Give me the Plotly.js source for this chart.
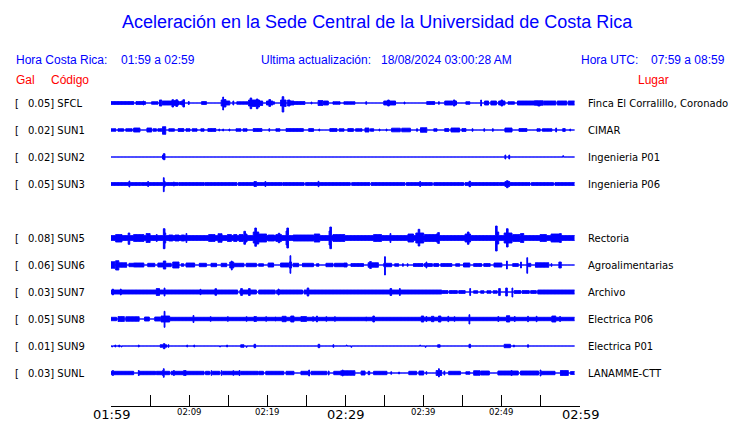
<!DOCTYPE html>
<html><head><meta charset="utf-8">
<script src="https://cdn.plot.ly/plotly-3.0.1.min.js"></script>
<style>html,body{margin:0;padding:0;background:#fff}#chart{width:740px;height:423px}</style>
</head><body><div id="chart"></div>
<script>
// ---- data (times in minutes after 01:59, amplitudes as drawn half-heights) ----
const stations = ['SFCL','SUN1','SUN2','SUN3','SUN5','SUN6','SUN7','SUN8','SUN9','SUNL'];
const galMax   = ['0.05','0.02','0.02','0.05','0.08','0.06','0.03','0.05','0.01','0.03'];
const places   = ['Finca El Corralillo, Coronado','CIMAR','Ingenieria P01','Ingenieria P06','Rectoria',
                  'Agroalimentarias','Archivo','Electrica P06','Electrica P01','LANAMME-CTT'];
const tickTimes = [0,10,20,30,40,50,60];
const tickText  = ['01:59','02:09','02:19','02:29','02:39','02:49','02:59'];
const tickBig   = [true,false,false,true,false,false,true];
const minorTicks = [0,5,10,15,20,25,30,35,40,45,50,55,60];
const traceEnd = 59.3;

// each entry: [start min, end min, amplitude up, amplitude down]
const segSFCL = [[0,2.8,1.5,1.5],[3.2,4.3,1.5,1.5],[4.1,4.1,2,2],[5.2,5.9,1.3,1.3],
 [6.2,6.4,3,3],[6.6,7.4,2,2],[7.5,7.7,2,2],[7.8,7.9,3.3,4],[8.0,8.2,2.5,2.5],[8.3,8.4,3.3,3.5],[8.5,8.6,2,2],
 [8.8,8.9,1.5,1.5],[9.0,9.1,2,2],[9.2,9.3,3.3,4],[9.9,9.9,1.5,1.5],
 [11.6,12.1,1.5,1.5],[14.1,14.2,3,3],[14.3,14.3,6,7],[14.4,14.6,3.5,4],[14.7,15.1,2,2],[15.6,15.6,2,2],[16.1,17.5,1.3,1.3],
 [17.6,17.7,3,3],[17.8,17.9,5,5.7],[18.0,18.2,3,3.5],[18.3,18.5,3,3.5],[18.6,18.7,4,5.7],[18.8,18.9,3,4],[19.0,19.3,2,2.5],
 [19.9,20.1,2,2],[20.2,20.3,3.5,3.5],[20.4,20.6,2,2],[20.8,20.8,1.3,1.3],
 [21.7,21.8,3,3],[21.9,22.0,6.3,9],[22.1,22.3,3,3.5],[22.6,22.8,3,3],[22.9,23.3,2,2],[23.4,24.7,1.5,1.5],[25.6,25.6,1,1],
 [26.5,27.0,2.5,2.5],[27.2,27.7,2,2],[28.4,29.2,1.3,1.3],[29.8,31.1,1.3,1.3],[32.6,32.6,1.3,1.3],
 [34.9,35.3,2,2],[35.4,35.5,3,3],[35.6,36.3,2,2],[37.5,37.5,1,1],[40.4,41.3,1.5,1.5],[41.9,41.9,1.3,1.3],
 [42.7,43.6,2,2],[43.8,43.9,3,3],[44.0,44.1,2,2],[45.4,45.8,1.3,1.3],[47.3,47.3,3,3],[47.8,48.2,2,2],[48.6,49.2,2,2],
 [49.6,49.8,2,2],[49.9,50.0,3,3],[50.1,50.3,2,2],[50.8,51.5,1.3,1.3],[52.0,54.1,2,2],[54.2,54.5,2.3,2.3],[54.6,54.8,2.3,3],
 [54.9,55.2,2.3,2.3],[55.4,56.8,2,2],[57.1,58.2,2,2],[58.5,59.3,2,2]];
const segSUN1 = [[0,0.5,1.3,1.3],[0.9,1.5,1.3,1.3],[1.9,2.6,1.3,1.3],[2.9,3.6,2,2],[4.6,5.1,2,2],
 [5.4,5.7,1.3,1.3],[6.0,6.4,1.3,1.3],[6.6,6.9,3.3,4.3],[7.4,8.0,1.3,1.3],[8.6,9.2,1.5,1.5],
 [9.6,10.0,1.3,1.3],[10.4,10.9,1.3,1.3],[11.5,11.8,1.3,1.3],[12.4,13.3,1.5,1.5],[13.8,13.8,1,1],
 [14.3,14.3,1,1],[15.1,15.1,1,1],[16.0,16.5,1.3,1.3],[16.9,17.3,1.3,1.3],[18.2,19.2,1.5,1.5],
 [20.2,20.2,1.3,1.3],[21.1,21.5,1.3,1.3],[22.4,24.5,1.5,1.5],[25.3,25.8,1.5,1.5],[26.6,26.6,1,1],
 [28.0,28.8,1.5,1.5],[29.2,29.7,1.3,1.3],[30.3,30.9,1.5,1.5],[31.3,32.0,1.3,1.3],[32.5,32.9,2,2],
 [33.2,33.5,1.3,1.3],[34.3,34.3,1,1],[35.2,35.2,1,1],[35.9,36.9,1.8,1.8],[37.2,38.2,1.8,1.8],
 [39.1,39.1,1.3,1.3],[39.6,40.3,2.3,2.3],[41.3,41.6,1.3,1.3],[42.7,43.1,1.5,1.5],[43.5,44.5,2,2],
 [44.9,45.3,1.5,1.5],[46.2,46.2,1.3,1.3],[47.7,47.7,1.3,1.3],[48.8,48.8,1.3,1.3],[50.4,51.2,2,2],
 [52.2,53.1,1.5,1.5],[54.5,54.8,1.3,1.3],[55.2,56.3,1.3,1.3],[56.9,56.9,2,2],[57.8,58.0,1.5,1.5],[58.7,58.7,1,1]];
const segSUN2 = [[6.6,6.6,2,2],[6.7,6.8,3.3,2.7],[50.4,50.4,2,2],[50.9,50.9,2,2],[57.8,57.8,1.3,0]];
const segSUN3 = [[0,3.7,1.5,1.5],[3.9,8.5,1.5,1.5],[8.7,11.8,1.5,1.5],[12.0,16.0,1.5,1.5],[16.3,21.8,1.5,1.5],
 [22.0,24.6,1.5,1.5],[24.9,30.5,1.5,1.5],[30.8,33.0,1.5,1.5],[33.3,37.5,1.5,1.5],[37.8,41.0,1.5,1.5],
 [41.3,45.0,1.5,1.5],[45.3,49.5,1.5,1.5],[49.7,53.5,1.5,1.5],[53.8,56.5,1.5,1.5],[56.8,59.3,1.5,1.5],
 [2.3,2.3,3,3],[4.7,4.7,2.5,2.5],[6.7,6.7,6.3,7.7],[6.8,6.8,3,3],[8.0,8.0,2,2],[18.3,18.5,2.5,2.5],[19.7,19.7,2.5,2.5],
 [26.5,26.5,2.7,2.7],[39.5,39.5,2.5,2.5],[45.8,45.9,2.7,2.7],[50.4,50.5,2.5,2.5],[50.6,50.7,3.3,3.7],[50.8,50.9,2.5,2.5]];
const segSUN5 = [[0,59.3,2.5,2.5],[0.6,1.3,3.5,4],[2.2,2.3,5,6.3],[2.9,4.1,3.5,3.5],[4.5,4.9,4.5,4.5],
 [5.8,5.8,3.5,3.5],[6.7,6.8,9.3,10.7],[6.9,6.9,5,5],[7.4,7.8,3,3],[8.2,8.6,3,3],[9.0,9.3,3,3],[9.6,9.6,4.5,4.5],
 [12.5,13.2,3.5,3.5],[13.7,14.1,4.3,4.3],[14.9,15.3,3.5,3.5],[15.7,16.0,3.5,3.5],[16.4,16.8,3.5,3.5],
 [17.0,17.1,6.7,6.3],[17.2,17.3,4,4],[18.2,18.3,6,5],[18.4,18.5,10,8.3],[18.6,18.8,6,6],[18.9,19.8,4,4],
 [20.1,20.8,3,3],[21.1,21.3,3.5,3.5],[21.4,21.5,4.7,4.7],[21.6,21.7,3.5,3.5],
 [22.4,22.4,7,7],[22.5,22.6,10,10],[23.3,25.8,3,3],[26.0,26.6,4,4],[27.9,27.9,7,7],[28.0,28.1,11,10.7],
 [28.4,29.8,3.5,3.5],[33.6,34.5,3.5,3.5],[35.7,35.7,4.5,4.5],[38.0,38.6,4,4],[39.0,39.2,5,5],[39.3,39.4,8.7,8],
 [39.5,39.9,5,5],[40.1,41.5,3.5,3.5],[41.6,41.7,4,4],[41.8,41.9,5.5,5.5],[45.3,45.5,4,4],[45.6,45.7,6,6.3],[45.8,45.9,4,4],
 [49.2,49.3,12,13],[49.4,49.5,6,6],[50.3,50.5,5,5],[50.6,50.7,9.3,9],[50.8,51.2,5,5],[51.4,52.2,3.5,3.5],
 [52.4,52.7,4.5,4.5],[54.9,55.6,3.5,3.5],[56.3,57.3,4,4],[57.4,57.5,4.5,4.5]];
const segSUN6 = [[0,0.4,3.3,3.3],[0.6,0.9,4.3,5],[1.0,1.9,2.3,2.3],[2.3,2.8,1.7,1.7],[2.9,4.1,2,2],[4.7,5.5,1.7,1.7],
 [6.0,6.6,2,2],[6.7,6.9,4,4],[7.0,7.6,1.7,1.7],[7.9,8.6,3,3],[9.0,9.2,1.3,1.3],[9.6,10.6,2,2],[11.3,12.1,1.7,1.7],
 [12.8,13.4,1.7,1.7],[14.1,14.7,1.7,1.7],[15.2,15.3,3,3],[15.4,15.4,4,5],[15.5,15.6,3,3],[15.7,16.9,1.7,1.7],
 [17.3,18.5,1.7,1.7],[18.9,19.4,1.3,1.3],[20.1,20.7,2,2],[21.7,22.6,2,2],[22.8,22.8,3,3],[22.9,22.9,9.3,8.3],
 [23.0,23.0,3,3],[23.3,23.9,1.7,1.7],[24.5,25.8,1.7,1.7],[26.3,26.5,1.3,1.3],
 [27.5,28.3,1.7,1.7],[28.6,29.8,1.7,1.7],[29.8,30.1,2,2],[30.7,32.2,1.5,1.5],[32.9,34.1,2.3,2.3],[33.1,33.2,3.5,3.5],
 [34.9,35.8,1.7,1.7],[35.0,35.0,8.3,10],[36.3,36.7,1.3,1.3],[37.3,37.3,1.3,1.3],[37.9,37.9,1.3,1.3],
 [38.7,39.8,1.5,1.5],[40.1,41.0,1.5,1.5],[40.3,40.3,3,3],[41.3,41.8,1.5,1.5],[42.2,43.5,1.5,1.5],[44.1,44.5,1.3,1.3],
 [45.1,45.8,2,2],[46.4,47.3,1.5,1.5],[47.7,48.4,1.5,1.5],[49.0,49.9,2,2],[50.6,50.6,4,4],[51.4,52.0,1.5,1.5],
 [52.4,52.4,3,3],[53.2,53.2,7.3,8.3],[53.4,53.6,1.7,1.7],[54.3,55.9,2.3,2.3],[56.3,56.3,1.3,1.3],[57.3,57.5,3,3]];
const segSUN7 = [[0,16.1,2,2],[16.5,18.5,2,2],[18.9,20.9,2,2],[21.2,24.4,2,2],[24.7,42.2,2,2],
 [42.2,43.0,1.5,1.5],[43.3,44.2,1.5,1.5],[44.5,45.2,1.5,1.5],[46.4,46.8,1.3,1.3],[47.3,47.6,1.3,1.3],
 [48.1,48.5,1.3,1.3],[48.9,49.3,1.3,1.3],[51.6,52.3,1.5,1.5],[52.6,53.4,1.5,1.5],[53.7,54.3,1.5,1.5],[54.6,59.3,2,2],
 [0.2,0.2,3,3],[1.2,1.2,3,3],[5.8,6.1,3.5,3.5],[6.8,6.8,4,4],[11.4,11.4,2.7,2.7],[13.3,13.4,3.3,3.3],
 [16.6,16.7,3.5,3.5],[17.6,17.7,3.5,3.5],[21.4,21.4,3,3],[25.1,25.2,4,4],[35.7,35.8,3.5,3.5],[36.9,36.9,3.5,3.5],
 [45.9,45.9,3.5,3.5],[49.6,49.7,3.5,3.5],[50.5,50.6,4,4],[51.3,51.3,4,5]];
const segSUN8 = [[0,0.6,1.7,1.7],[0.9,1.6,2.5,2.5],[1.9,3.5,2.3,2.3],[4.3,4.8,2,2],[5.6,6.2,2,2],[6.4,6.7,3,3],
 [6.9,7.4,3,3],[7.4,59.3,1.7,1.7],[6.8,6.8,7.7,8.3],[10.5,10.5,3.5,3.5],[12.7,12.7,2.3,2.3],[14.9,14.9,2.3,2.3],[17.3,17.3,2.3,2.3],
 [18.3,18.5,2.5,2.5],[19.8,19.8,2.3,2.3],[21.0,21.0,2,2],[21.9,22.3,2.7,2.7],[23.0,23.3,3,3],[24.3,24.9,2.5,2.5],
 [25.8,25.8,2.3,2.3],[26.3,26.3,3,3],[27.5,27.5,2.3,2.3],[28.6,28.6,2.3,2.3],[32.6,32.6,2,2],[33.5,33.6,3,3],
 [39.7,39.9,3,3],[40.3,40.3,2.5,2.5],[41.0,41.2,2.7,2.7],[41.9,42.1,3,3],[43.1,43.1,2.7,2.7],[43.9,43.9,2.3,2.3],
 [45.8,45.8,4.3,5],[49.5,49.5,2.5,2.5],[50.6,50.9,3.3,3],[51.6,51.6,2.5,2.5],[53.3,53.3,2.7,2.7],[54.4,54.4,2.7,2.7],
 [56.4,56.8,3,3],[57.4,57.4,2.5,2.5]];
const segSUN9 = [[0.1,0.1,0,1],[0.5,0.5,1,1],[1.0,1.0,1,1],[1.3,1.3,0,1],[3.5,3.5,1,1],[6.3,7.0,1.3,1.3],
 [6.7,6.8,2.3,2.7],[7.3,7.3,1.3,1.3],[9.7,9.7,1,1],[10.6,10.6,1,1],[13.9,13.9,0,1],[14.8,14.8,1,1],
 [16.6,16.9,1.3,1.3],[17.3,17.3,0,1.3],[18.3,18.4,1.7,1.7],[26.5,26.6,1.7,1.7],[28.4,28.4,1.3,1.3],
 [30.1,30.1,1,0],[30.7,30.7,0,1.3],[39.5,39.5,1,0],[40.2,40.2,0,1.3],[41.8,42.0,1.3,1.3],[45.8,45.9,1.7,1.7],
 [50.3,51.0,1.7,1.7],[51.5,51.5,1,1],[53.3,53.3,1.3,1.3]];
const segSUNL = [[0,2.8,1.7,1.7],[3.5,5.6,1.7,1.7],[5.8,7.4,1.7,1.7],[7.7,9.2,1.7,1.7],[9.6,11.8,1.7,1.7],
 [12.1,12.5,1.7,1.7],[13.0,13.8,1.7,1.7],[14.3,16.4,1.7,1.7],[16.6,18.7,1.7,1.7],[18.9,19.4,1.7,1.7],
 [19.8,22.0,1.7,1.7],[22.4,23.3,1.7,1.7],[24.3,25.2,1.7,1.7],[25.6,27.5,1.7,1.7],[28.5,29.4,1.7,1.7],
 [29.4,31.1,2.3,2.3],[32.0,32.4,2,2],[32.9,33.0,1.7,1.7],[33.6,35.2,1.7,1.7],[35.8,35.8,1.3,1.3],[36.8,36.8,1,1],
 [38.1,39.0,1.7,1.7],[39.4,39.9,2,2],[40.3,40.3,1.3,1.3],[41.6,41.8,2.5,2.5],[41.9,41.9,4.3,4],[42.0,42.2,2.5,2.5],
 [42.6,42.6,2,2],[43.2,44.6,1.7,1.7],
 [45.4,45.8,1.3,1.3],[46.4,47.1,2.3,2.3],[47.3,48.3,2,2],[49.5,52.0,2,2],[51.2,51.2,2.5,2.5],[52.4,54.6,2,2],
 [54.9,54.9,3,3],[55.0,56.7,1.7,1.7],[57.5,58.4,2.5,2.5],[58.8,59.3,1.5,1.5],
 [0.2,0.2,2.5,2.5],[3.5,3.5,2.5,2.5],[6.6,6.6,2.5,2.5],[6.7,6.7,4.3,4.3],[8.0,8.0,2.5,2.5],[9.3,9.5,2.5,2.5],[12.8,12.8,2.3,2.3],
 [14.1,14.1,2.3,2.3],[15.6,15.6,2.3,2.3],[16.4,16.4,2.5,2.5],[25.3,25.3,3,3],[27.8,27.8,2,2],[29.6,29.6,3,3]];
const segments = [segSFCL,segSUN1,segSUN2,segSUN3,segSUN5,segSUN6,segSUN7,segSUN8,segSUN9,segSUNL];

// ---- layout geometry ----
const W = 740, H = 423;
const L = 111, R = 580, TOP = 88, BOT = 406;
const BLUE = '#0000ff', RED = '#ff0000';
function px(x){ return (x - L) / (R - L); }
function py(y){ return (BOT - y) / (BOT - TOP); }
function slotBase(i){ const s = i < 4 ? i : i + 1; return -(103 + 27 * s); }

const data = [];
const dt = 0.1;
const N = Math.round(traceEnd / dt);
segments.forEach((segs, i) => {
  const base = slotBase(i);
  const xs = [], up = [], dn = [];
  for (let k = 0; k <= N; k++) {
    const t = +(k * dt).toFixed(3);
    let u = 0, d = 0;
    for (const s of segs) {
      if (t >= s[0] - 0.051 && t <= s[1] + 0.051) { u = Math.max(u, s[2]); d = Math.max(d, s[3]); }
    }
    xs.push(t); up.push(base + u); dn.push(base - d);
  }
  data.push({x: xs, y: up, type: 'scatter', mode: 'lines', line: {color: BLUE, width: 1, shape: 'hv'},
             hoverinfo: 'skip', showlegend: false, name: stations[i]});
  data.push({x: xs, y: dn, type: 'scatter', mode: 'lines', fill: 'tonexty', fillcolor: BLUE,
             line: {color: BLUE, width: 1, shape: 'hv'}, hoverinfo: 'skip', showlegend: false, name: stations[i]});
});

function ann(text, x, y, font, extra) {
  return Object.assign({text: text, xref: 'paper', yref: 'paper', x: px(x), y: py(y), xanchor: 'left',
    yanchor: 'middle', showarrow: false, borderpad: 0, font: font}, extra || {});
}
const fHead = {family: 'Liberation Sans, Arial, sans-serif', size: 12, color: BLUE};
const fRed  = {family: 'Liberation Sans, Arial, sans-serif', size: 12, color: RED};
const fLab  = {family: 'DejaVu Sans, sans-serif', size: 10, color: '#000'};

const annotations = [
  ann('Aceleración en la Sede Central de la Universidad de Costa Rica', 377, 22,
      {family: 'Liberation Sans, Arial, sans-serif', size: 18, color: BLUE}, {xanchor: 'center'}),
  ann('Hora Costa Rica:', 15, 60, fHead), ann('01:59 a 02:59', 120, 60, fHead),
  ann('Ultima actualización:', 260, 60, fHead), ann('18/08/2024 03:00:28 AM', 380, 60, fHead),
  ann('Hora UTC:', 580, 60, fHead), ann('07:59 a 08:59', 650, 60, fHead),
  ann('Gal', 15, 80, fRed), ann('Código', 50, 80, fRed), ann('Lugar', 637, 80, fRed)
];
stations.forEach((s, i) => {
  const yb = -slotBase(i);
  annotations.push(ann('[', 14, yb, fLab));
  annotations.push(ann(galMax[i] + '] ' + s, 27, yb, fLab));
  annotations.push(ann(places[i], 587, yb, fLab));
});
tickTimes.forEach((t, i) => {
  const big = tickBig[i];
  annotations.push({text: tickText[i], xref: 'x', yref: 'paper', x: t, y: py(big ? 414 : 412),
    xanchor: 'center', yanchor: 'middle', showarrow: false, borderpad: 0,
    font: {family: 'DejaVu Sans, sans-serif', size: big ? 13 : 8.5, color: '#000'}});
});

const layout = {
  width: W, height: H,
  margin: {l: L, r: W - R, t: TOP, b: H - BOT, pad: 0},
  paper_bgcolor: '#fff', plot_bgcolor: '#fff', showlegend: false,
  xaxis: {range: [0, 60], tickmode: 'array', tickvals: minorTicks, ticks: 'inside', ticklen: 11,
          tickcolor: '#000', tickwidth: 1, showticklabels: false, showline: true, linecolor: '#000',
          linewidth: 1, showgrid: false, zeroline: false, fixedrange: true},
  yaxis: {range: [-BOT, -TOP], visible: false, fixedrange: true},
  annotations: annotations
};
Plotly.newPlot('chart', data, layout, {staticPlot: true, displayModeBar: false});
</script></body></html>
